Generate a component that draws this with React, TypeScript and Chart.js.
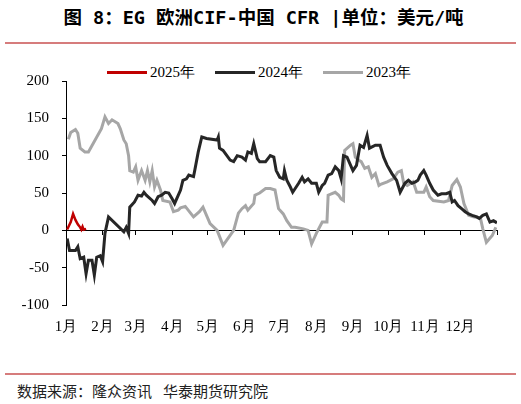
import React, { useEffect, useRef } from "react";
import { Chart, registerables } from "chart.js";

Chart.register(...registerables);

const monthLabels = ["1月", "2月", "3月", "4月", "5月", "6月", "7月", "8月", "9月", "10月", "11月", "12月", ""];
const monthStarts = [0, 31, 59, 90, 120, 151, 181, 212, 243, 273, 304, 334, 365];

const days2025 = [1, 4, 6, 8, 10, 12, 13, 14, 15, 17];
const vals2025 = [1, 11, 22, 14, 8, 4, 1, 5, 1, 2];

const days2024 = [1, 3, 8, 10, 12, 15, 17, 19, 22, 24, 26, 29, 31, 33, 36, 49, 51, 53, 54, 58, 61, 64, 66, 68, 73, 75, 78, 81, 84, 87, 90, 92, 97, 99, 102, 104, 108, 109, 112, 115, 119, 128, 129, 130, 133, 139, 142, 145, 149, 152, 154, 157, 159, 162, 164, 169, 173, 176, 178, 181, 184, 185, 187, 190, 192, 197, 200, 202, 205, 208, 212, 214, 217, 219, 222, 225, 228, 231, 233, 235, 238, 243, 246, 249, 252, 255, 257, 262, 266, 269, 272, 276, 280, 283, 287, 290, 293, 296, 298, 300, 303, 305, 308, 311, 315, 318, 322, 325, 327, 329, 332, 335, 338, 341, 344, 348, 350, 353, 356, 359, 362, 365];
const vals2024 = [-11, -27, -27, -22, -38, -36, -58, -40, -40, -60, -36, -34, -42, -4, 18, -2, 4, -4, 31, 38, 47, 46, 51, 47, 40, 36, 45, 47, 51, 50, 42, 36, 54, 67, 69, 74, 72, 80, 105, 125, 123, 121, 125, 110, 107, 94, 92, 100, 98, 94, 105, 103, 116, 96, 92, 92, 100, 98, 80, 71, 69, 80, 67, 58, 51, 63, 71, 65, 69, 63, 63, 51, 60, 63, 74, 76, 85, 80, 69, 100, 98, 80, 87, 114, 111, 127, 110, 114, 114, 98, 87, 76, 67, 51, 63, 67, 63, 65, 67, 74, 80, 74, 63, 54, 47, 49, 49, 51, 38, 40, 33, 29, 25, 22, 20, 18, 16, 20, 22, 11, 13, 10];

const days2023 = [2, 4, 8, 10, 12, 16, 19, 30, 33, 36, 39, 44, 46, 49, 51, 53, 54, 57, 59, 61, 64, 67, 69, 71, 73, 75, 77, 80, 82, 88, 91, 95, 97, 101, 108, 113, 116, 122, 128, 133, 142, 146, 149, 152, 154, 159, 160, 164, 169, 173, 177, 180, 184, 187, 191, 194, 201, 205, 208, 212, 217, 221, 222, 228, 231, 233, 235, 236, 241, 243, 245, 248, 250, 253, 256, 259, 262, 265, 267, 272, 277, 281, 284, 286, 289, 294, 297, 303, 305, 308, 311, 320, 324, 327, 331, 334, 337, 341, 345, 351, 353, 356, 361, 364];
const vals2023 = [122, 131, 135, 130, 110, 105, 105, 136, 152, 143, 148, 143, 136, 121, 116, 100, 80, 78, 85, 67, 80, 67, 80, 65, 80, 58, 67, 54, 40, 38, 25, 27, 30, 32, 18, 25, 31, 9, 0, -20, 0, 23, 29, 33, 27, 36, 47, 50, 56, 56, 54, 29, 22, 13, 4, 4, 2, 0, -18, -4, 11, 11, 47, 51, 47, 42, 40, 107, 114, 116, 98, 94, 92, 83, 85, 71, 76, 60, 62, 65, 69, 78, 80, 63, 60, 65, 51, 51, 58, 45, 40, 38, 40, 60, 68, 58, 36, 20, 18, 16, 2, -16, -7, 4];

const yTicks = [-100, -50, 0, 50, 100, 150, 200];

const seriesNames = ["2025年", "2024年", "2023年"];
const seriesColors = ["#C00000", "#262626", "#A6A6A6"];

const toPoints = (d: number[], v: number[]) => d.map((x, i) => ({ x, y: v[i] }));

const serif = "'Liberation Serif', 'Times New Roman', serif";

export default function App() {
  const ref = useRef<HTMLCanvasElement | null>(null);

  useEffect(() => {
    if (!ref.current) return;
    const chart = new Chart(ref.current, {
      type: "line",
      data: {
        datasets: [
          { label: seriesNames[0], data: toPoints(days2025, vals2025), borderColor: seriesColors[0], backgroundColor: seriesColors[0], borderWidth: 2.5 },
          { label: seriesNames[1], data: toPoints(days2024, vals2024), borderColor: seriesColors[1], backgroundColor: seriesColors[1], borderWidth: 3 },
          { label: seriesNames[2], data: toPoints(days2023, vals2023), borderColor: seriesColors[2], backgroundColor: seriesColors[2], borderWidth: 3 },
        ],
      },
      options: {
        animation: false,
        responsive: false,
        maintainAspectRatio: false,
        devicePixelRatio: 1,
        layout: { padding: { top: 31, right: 24, left: 0, bottom: 0 } },
        elements: { point: { radius: 0 }, line: { tension: 0 } },
        plugins: { legend: { display: false }, tooltip: { enabled: false } },
        scales: {
          x: {
            type: "linear",
            min: 0,
            max: 365,
            position: { y: 0 } as any,
            afterBuildTicks: (s: any) => {
              s.ticks = monthStarts.map((v) => ({ value: v }));
            },
            ticks: { display: false },
            grid: { display: true, drawOnChartArea: false, drawTicks: true, tickLength: 4, color: "#000", lineWidth: 1 },
            border: { display: true, color: "#000", width: 1 },
          },
          x2: {
            type: "linear",
            axis: "x",
            position: "bottom",
            min: 0,
            max: 365,
            afterBuildTicks: (s: any) => {
              s.ticks = monthStarts.map((v) => ({ value: v }));
            },
            afterFit: (s: any) => {
              s.height = 45;
            },
            ticks: {
              autoSkip: false,
              maxRotation: 0,
              padding: 13,
              color: "#000",
              font: { family: serif, size: 15 },
              callback: (_v: any, i: number) => monthLabels[i],
            },
            grid: { display: false, drawTicks: false },
            border: { display: false },
          },
          y: {
            min: -100,
            max: 200,
            afterBuildTicks: (s: any) => {
              s.ticks = yTicks.map((v) => ({ value: v }));
            },
            afterFit: (s: any) => {
              s.width = 66;
            },
            ticks: { padding: 13, color: "#000", font: { family: serif, size: 15 } },
            grid: { display: true, drawOnChartArea: false, drawTicks: true, tickLength: 4, color: "#000", lineWidth: 1 },
            border: { display: true, color: "#000", width: 1 },
          },
        },
      },
    });
    return () => chart.destroy();
  }, []);

  const legendItems = seriesNames.map((n, i) => (
    <div key={n} style={{ display: "flex", alignItems: "center", marginRight: 20 }}>
      <div style={{ width: 40, height: 3, background: seriesColors[i], marginRight: 3 }} />
      <span>{n}</span>
    </div>
  ));

  return (
    <div style={{ position: "absolute", left: 0, top: 0, width: 521, height: 404, background: "#fff", overflow: "hidden" }}>
      <div
        style={{
          position: "absolute",
          top: 6,
          left: 3,
          width: 521,
          textAlign: "center",
          fontFamily: "'DejaVu Sans Mono', 'Noto Sans CJK SC', sans-serif",
          fontWeight: "bold",
          fontSize: 18.5,
          lineHeight: "24px",
          color: "#000",
          whiteSpace: "nowrap",
        }}
      >
        图 8：EG 欧洲CIF-中国 CFR |单位：美元/吨
      </div>
      <div style={{ position: "absolute", top: 42, left: 5, width: 511, height: 2, background: "#D67C7C" }} />
      <div
        style={{
          position: "absolute",
          top: 63,
          left: 107,
          height: 18,
          display: "flex",
          alignItems: "center",
          fontFamily: serif,
          fontSize: 15,
          lineHeight: "18px",
          color: "#000",
        }}
      >
        {legendItems}
      </div>
      <canvas ref={ref} width={521} height={300} style={{ position: "absolute", left: 0, top: 50, width: 521, height: 300 }} />
      <div style={{ position: "absolute", top: 373, left: 5, width: 511, height: 2, background: "#D67C7C" }} />
      <div
        style={{
          position: "absolute",
          top: 382,
          left: 17,
          fontFamily: "'Noto Sans CJK SC', sans-serif",
          fontSize: 15,
          lineHeight: "18px",
          color: "#222",
          whiteSpace: "nowrap",
        }}
      >
        数据来源：隆众资讯<span style={{ marginLeft: 11 }}>华泰期货研究院</span>
      </div>
    </div>
  );
}
